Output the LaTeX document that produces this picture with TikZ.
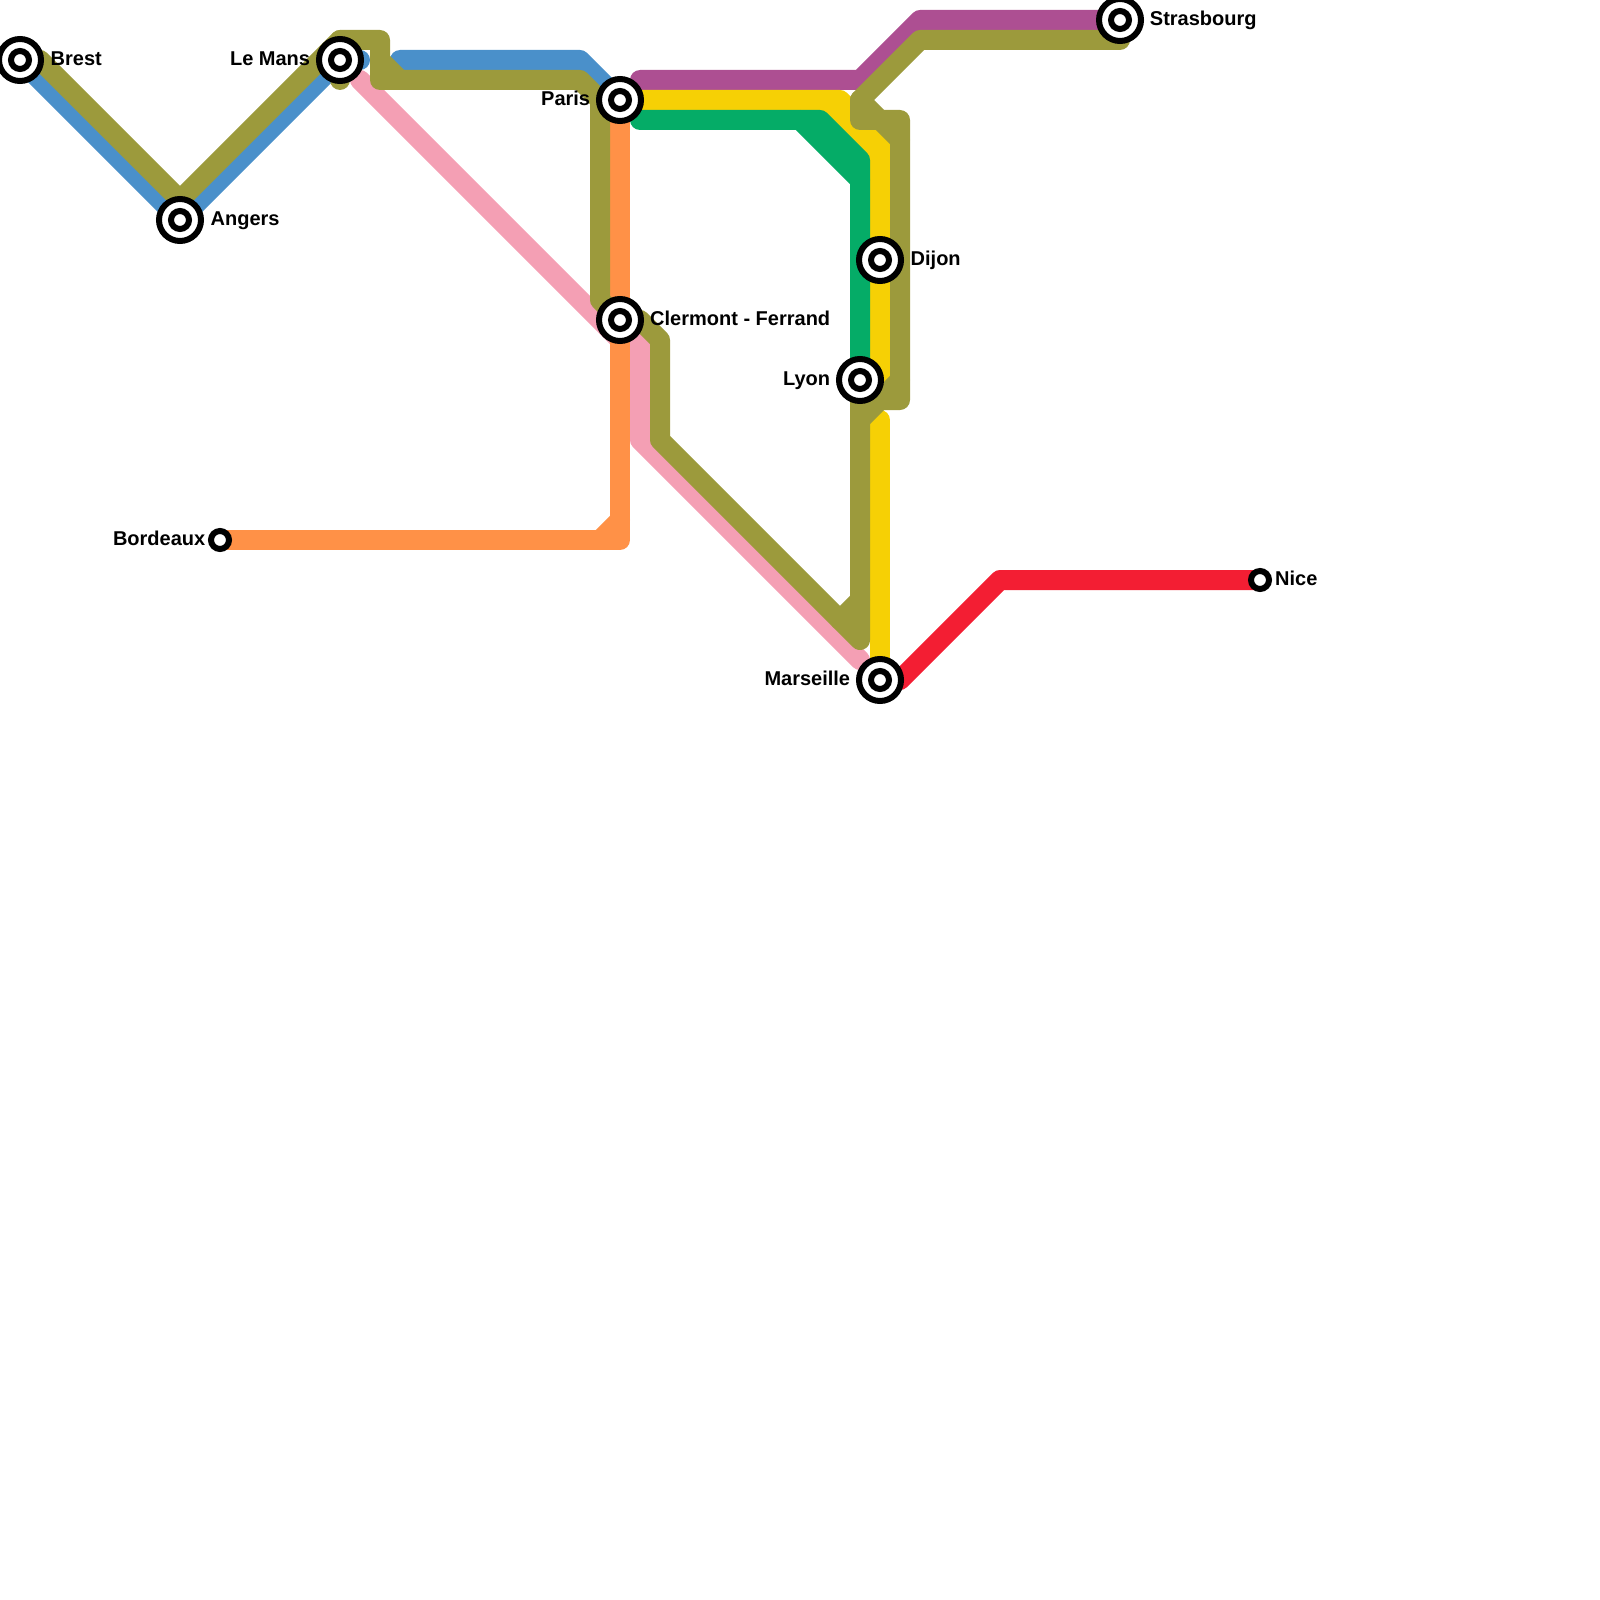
\documentclass[tikz,border=0pt]{standalone}
\usepackage{fontspec}
\setmainfont{Liberation Sans}
\definecolor{lblue}{HTML}{4A90CA}
\definecolor{lolive}{HTML}{9C9A3C}
\definecolor{lpink}{HTML}{F49FB4}
\definecolor{lorange}{HTML}{FF9147}
\definecolor{lyellow}{HTML}{F6D005}
\definecolor{lgreen}{HTML}{05AC67}
\definecolor{lpurple}{HTML}{AD4F92}
\definecolor{lred}{HTML}{F31E33}
\tikzset{
  metro/.style={line width=20pt,line cap=round,line join=round},
  bigouter/.style={circle,draw=black,fill=white,line width=6pt,minimum size=42pt,inner sep=0pt,outer sep=0pt},
  biginner/.style={circle,draw=black,fill=white,line width=6pt,minimum size=18pt,inner sep=0pt,outer sep=0pt},
  smallstop/.style={circle,draw=black,fill=white,line width=6pt,minimum size=18pt,inner sep=0pt,outer sep=0pt},
  lbl/.style={inner sep=0pt,font=\bfseries\fontsize{20}{24}\selectfont}
}
\begin{document}
\begin{tikzpicture}[x=1pt,y=-1pt]
\useasboundingbox (0,0) rectangle (1600,1600);
\coordinate (brest) at (20,60);
\coordinate (angers) at (180,220);
\coordinate (lemans) at (340,60);
\coordinate (paris) at (620,100);
\coordinate (clermont) at (620,320);
\coordinate (dijon) at (880,260);
\coordinate (lyon) at (860,380);
\coordinate (marseille) at (880,680);
\coordinate (strasbourg) at (1120,20);
\coordinate (bordeaux) at (220,540);
\coordinate (nice) at (1260,580);
% blue
\draw[metro,lblue] (brest) -- (angers) -- (lemans) -- (360,60);
\draw[metro,lblue] (400,60) -- (580,60) -- (paris);
% pink
\draw[metro,lpink] (360,80) -- (620,340);
\draw[metro,lpink] (clermont) -- (640,340) -- (640,440) -- (860,660);
% orange
\draw[metro,lorange] (paris) -- (620,540) -- (bordeaux);
\draw[metro,lorange] (620,520) -- (600,540);
% purple
\draw[metro,lpurple] (640,80) -- (860,80) -- (920,20) -- (strasbourg);
% yellow
\draw[metro,lyellow] (paris) -- (840,100) -- (880,140) -- (dijon) -- (880,380);
\draw[metro,lyellow] (820,100) -- (880,160);
\draw[metro,lyellow] (880,420) -- (marseille);
% green
\draw[metro,lgreen] (640,120) -- (820,120) -- (860,160) -- (lyon);
\draw[metro,lgreen] (800,120) -- (860,180);
% red
\draw[metro,lred] (900,680) -- (1000,580) -- (nice);
% olive
\draw[metro,lolive] (40,60) -- (180,200) -- (340,40) -- (380,40) -- (380,80) -- (580,80) -- (600,100) -- (600,300) -- (clermont) -- (640,320) -- (660,340) -- (660,440) -- (860,640) -- (lyon);
\draw[metro,lolive] (340,80) -- (340,40);
\draw[metro,lolive] (380,60) -- (400,80);
\draw[metro,lolive] (840,620) -- (860,600);
\draw[metro,lolive] (860,420) -- (900,380);
\draw[metro,lolive] (880,400) -- (900,400) -- (900,120) -- (860,120) -- (860,100) -- (920,40) -- (1120,40);
\draw[metro,lolive] (860,100) -- (900,140);
% stations
\foreach \n/\c in {sbrest/brest,sangers/angers,slemans/lemans,sparis/paris,sclermont/clermont,sdijon/dijon,slyon/lyon,smarseille/marseille,sstrasbourg/strasbourg}{
  \node[bigouter] (\n) at (\c) {};
  \node[biginner] (\n i) at (\c) {};
}
\node[smallstop] (sbordeaux) at (bordeaux) {};
\node[smallstop] (snice) at (nice) {};
% labels
\node[lbl,anchor=base west] (tbrest) at (50.5,65.3) {Brest};
\node[lbl,anchor=base west] (tangers) at (210.5,225) {Angers};
\node[lbl,anchor=base east] (tlemans) at (310.3,65.3) {Le Mans};
\node[lbl,anchor=base east] (tparis) at (590.3,105.3) {Paris};
\node[lbl,anchor=base west] (tclermont) at (650,325.3) {Clermont - Ferrand};
\node[lbl,anchor=base west] (tdijon) at (910.5,265.3) {Dijon};
\node[lbl,anchor=base east] (tlyon) at (830.3,385.3) {Lyon};
\node[lbl,anchor=base east] (tmarseille) at (850.3,685.3) {Marseille};
\node[lbl,anchor=base west] (tstrasbourg) at (1149.7,25.3) {Strasbourg};
\node[lbl,anchor=base east] (tbordeaux) at (205.5,545.3) {Bordeaux};
\node[lbl,anchor=base west] (tnice) at (1275,585.3) {Nice};
\end{tikzpicture}
\end{document}
